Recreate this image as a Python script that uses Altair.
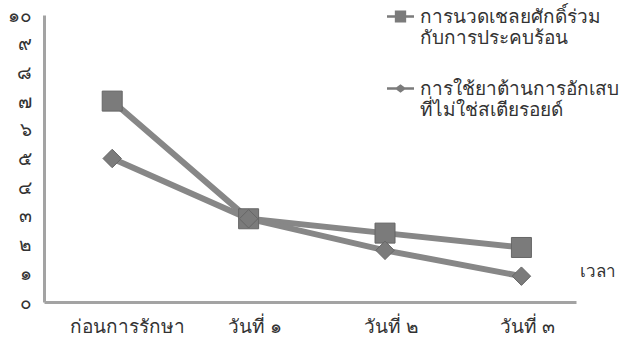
import altair as alt
import pandas as pd

categories = ["ก่อนการรักษา", "วันที่ ๑", "วันที่ ๒", "วันที่ ๓"]
series_names = ["การนวดเชลยศักดิ์ร่วม|กับการประคบร้อน", "การใช้ยาต้านการอักเสบ|ที่ไม่ใช่สเตียรอยด์"]
massage_values = [7.0, 2.9, 2.4, 1.9]
nsaid_values = [5.0, 2.9, 1.8, 0.9]
thai_digits = ["๐", "๑", "๒", "๓", "๔", "๕", "๖", "๗", "๘", "๙", "๑๐"]
x_title = "เวลา"

rows = []
for i, c in enumerate(categories):
    rows.append({"idx": i, "cat": c, "series": series_names[0], "value": massage_values[i]})
    rows.append({"idx": i, "cat": c, "series": series_names[1], "value": nsaid_values[i]})
df = pd.DataFrame(rows)

FONT = "Noto Sans"
GRAY = "#878787"
AXIS_GRAY = "#a3a3a3"

x_label_expr = "[" + ",".join("'" + c + "'" for c in categories) + "][datum.value]"
y_label_expr = "[" + ",".join("'" + d + "'" for d in thai_digits) + "][datum.value]"

x_enc = alt.X(
    "idx:Q",
    scale=alt.Scale(domain=[-0.5, 3.4], nice=False, zero=False),
    axis=alt.Axis(
        values=[0, 1, 2, 3],
        labelExpr=x_label_expr,
        title=x_title,
        titleX=535,
        titleY=-31,
        titleAlign="left",
        titleBaseline="middle",
        titleFontSize=17,
        titleFontWeight="normal",
        titleColor="#333333",
        titleFont=FONT,
        labelFontSize=19,
        labelColor="#333333",
        labelFont=FONT,
        labelPadding=15,
        labelOffset={"condition": {"test": "datum.value == 0", "value": 15}, "value": 6},
        ticks=False,
        grid=False,
        domainColor=AXIS_GRAY,
        domainWidth=3,
    ),
)
y_enc = alt.Y(
    "value:Q",
    scale=alt.Scale(domain=[0, 10], nice=False),
    axis=alt.Axis(
        values=list(range(11)),
        labelExpr=y_label_expr,
        title=None,
        ticks=False,
        grid=False,
        labelFontSize=19,
        labelColor="#333333",
        labelFont=FONT,
        labelPadding=13,
        domainColor=AXIS_GRAY,
        domainWidth=3,
    ),
)

base = alt.Chart(df)

lines = base.mark_line(color=GRAY, strokeWidth=6).encode(
    x=x_enc, y=y_enc, detail="series:N"
)

points = base.mark_point(filled=True, opacity=1, color="#7b7b7b", stroke="#666666", strokeWidth=1).encode(
    x=x_enc,
    y=y_enc,
    shape=alt.Shape("series:N", scale=alt.Scale(domain=series_names, range=["square", "diamond"]), legend=None),
    size=alt.Size("series:N", scale=alt.Scale(domain=series_names, range=[400, 340]), legend=None),
)

sq_path = "M-1,-0.1 L-0.42,-0.1 L-0.42,-0.44 L0.42,-0.44 L0.42,0.44 L-0.42,0.44 L-0.42,0.1 L-1,0.1 Z M0.42,-0.1 L1,-0.1 L1,0.1 L0.42,0.1 Z"
dm_path = "M-1,-0.09 L-0.3,-0.09 L0,-0.32 L0.3,-0.09 L1,-0.09 L1,0.09 L0.3,0.09 L0,0.32 L-0.3,0.09 L-1,0.09 Z"

legend_layer = base.transform_filter("false").mark_point(filled=True, opacity=1, color="#7b7b7b").encode(
    x=x_enc,
    y=y_enc,
    shape=alt.Shape(
        "series:N",
        scale=alt.Scale(domain=series_names, range=[sq_path, dm_path]),
        legend=alt.Legend(
            title=None,
            orient="none",
            legendX=343,
            legendY=-12,
            labelExpr="split(datum.label, '|')",
            labelFontSize=19,
            labelFont=FONT,
            labelColor="#333333",
            labelLimit=400,
            labelOffset=6,
            symbolSize=729,
            symbolStrokeWidth=0,
            symbolFillColor="#7b7b7b",
            rowPadding=27,
        ),
    ),
)

chart = (
    alt.layer(lines, points, legend_layer)
    .resolve_scale(shape="independent", size="independent")
    .properties(
        width=532,
        height=287,
        padding={"left": 44, "top": 15, "right": 47, "bottom": 40},
        autosize=alt.AutoSizeParams(type="none"),
        background="white",
    )
    .configure_view(stroke=None)
)

chart.save("out.html", embed_options={"renderer": "svg", "actions": False})
